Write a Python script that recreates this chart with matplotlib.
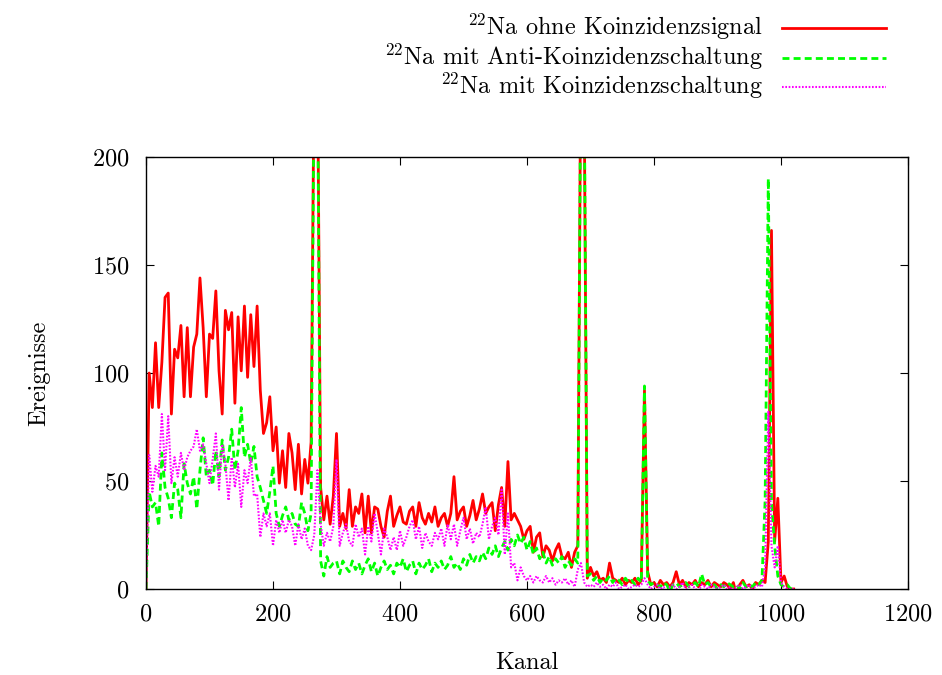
import numpy as np
import matplotlib
matplotlib.use('Agg')
import matplotlib.pyplot as plt
from matplotlib.lines import Line2D

plt.rcParams['font.family'] = 'serif'
plt.rcParams['font.serif'] = ['cmr10', 'DejaVu Serif']
plt.rcParams['mathtext.fontset'] = 'cm'
plt.rcParams['axes.unicode_minus'] = False
plt.rcParams['axes.formatter.use_mathtext'] = True

# Kanaele (Schrittweite 5)
kanal = np.arange(0, 1021, 5)

# 22Na ohne Koinzidenzsignal
ohne = [
    0, 100, 84, 114, 84, 105, 135, 137, 81, 111,
    107, 122, 89, 121, 89, 112, 118, 144, 121, 89,
    118, 116, 138, 101, 81, 129, 120, 128, 86, 126,
    101, 131, 98, 127, 103, 131, 92, 72, 77, 89,
    64, 75, 49, 64, 47, 72, 63, 46, 67, 44,
    60, 49, 68, 250, 250, 47, 32, 43, 30, 43,
    72, 29, 35, 28, 46, 29, 38, 35, 44, 26,
    43, 26, 38, 37, 29, 24, 36, 43, 29, 34,
    38, 31, 30, 36, 38, 29, 40, 33, 30, 35,
    31, 38, 29, 33, 35, 29, 35, 52, 32, 36,
    38, 29, 34, 41, 32, 37, 44, 35, 38, 40,
    27, 39, 47, 29, 59, 32, 35, 32, 29, 23,
    27, 29, 17, 24, 26, 15, 20, 18, 13, 18,
    21, 15, 14, 17, 10, 17, 20, 260, 230, 5,
    10, 6, 8, 4, 5, 3, 12, 5, 4, 3,
    5, 2, 4, 3, 5, 2, 4, 92, 8, 2,
    3, 1, 4, 2, 3, 1, 3, 8, 2, 4,
    1, 3, 2, 4, 1, 3, 2, 4, 1, 3,
    2, 1, 3, 2, 0, 3, -3, 2, 4, 1,
    2, 0, 3, 2, 4, 3, 22, 166, 22, 42,
    3, 6, 1, 0, 0,
]

# 22Na mit Anti-Koinzidenzschaltung
anti = [
    0, 45, 38, 40, 29, 63, 47, 42, 33, 49,
    46, 33, 58, 49, 44, 52, 37, 55, 70, 52,
    55, 48, 64, 52, 69, 55, 61, 74, 55, 64,
    84, 61, 67, 58, 66, 52, 47, 41, 35, 45,
    57, 35, 29, 34, 38, 32, 35, 30, 29, 40,
    35, 27, 35, 250, 250, 13, 6, 15, 10, 12,
    13, 7, 13, 10, 8, 13, 9, 12, 7, 11,
    14, 8, 12, 6, 10, 13, 9, 11, 7, 12,
    10, 14, 8, 11, 13, 7, 12, 9, 11, 14,
    8, 12, 10, 13, 9, 11, 15, 10, 12, 9,
    14, 11, 16, 12, 15, 13, 17, 14, 19, 16,
    20, 15, 19, 22, 18, 23, 20, 25, 21, 24,
    18, 22, 16, 19, 14, 17, 12, 15, 11, 14,
    12, 15, 10, 13, 11, 14, 12, 260, 240, 6,
    7, 4, 6, 3, 5, 4, 6, 3, 5, 4,
    2, 5, 3, 4, 2, 5, 3, 94, 4, 2,
    3, 2, 1, 3, 2, -1, 2, 3, 1, 2,
    3, 1, 2, 3, 1, 7, 2, 3, 1, 2,
    0, 2, 1, 3, 2, 1, 2, 0, 3, 1,
    2, 1, 3, 2, 4, 41, 190, 40, 20, 6,
    2, 1, 2, 0, 0,
]

# 22Na mit Koinzidenzschaltung
koinz = [
    0, 62, 45, 57, 52, 81, 55, 80, 49, 61,
    52, 63, 55, 61, 64, 66, 74, 64, 67, 58,
    49, 60, 72, 46, 67, 58, 41, 61, 47, 58,
    38, 55, 49, 61, 43, 44, 24, 35, 29, 35,
    20, 32, 26, 32, 26, 32, 29, 20, 30, 23,
    28, 20, 18, 25, 55, 30, 20, 26, 22, 29,
    60, 20, 26, 30, 22, 20, 30, 24, 28, 16,
    29, 22, 35, 26, 16, 28, 24, 18, 24, 18,
    27, 20, 24, 29, 32, 23, 29, 19, 26, 22,
    20, 26, 23, 28, 20, 30, 23, 30, 20, 27,
    33, 23, 28, 21, 26, 24, 30, 38, 23, 29,
    33, 25, 46, 16, 35, 10, 12, 4, 10, 6,
    4, 6, 3, 6, 4, 3, 6, 3, 5, 2,
    4, 3, 5, 2, 4, 1, 9, 12, 3, 1,
    2, 1, 3, 1, 2, 0, 2, 1, 3, 0,
    1, 2, 0, 1, 2, 1, 2, 5, 2, 0,
    1, 2, 0, 1, -2, 1, 2, 0, 1, 3,
    0, 1, 2, 0, -1, 2, 1, 0, 2, 1,
    0, 1, 2, 0, 1, -1, 1, 2, 0, 1,
    2, 0, 1, 2, 1, 10, 82, 20, 10, 20,
    3, 1, 0, 0, 0,
]

labels = [r'$^{22}$Na ohne Koinzidenzsignal',
          r'$^{22}$Na mit Anti-Koinzidenzschaltung',
          r'$^{22}$Na mit Koinzidenzschaltung']

W, H = 942, 675
fs = 17.5

fig = plt.figure(figsize=(W / 100, H / 100), dpi=100)
ax = fig.add_axes([146 / W, 1 - 589 / H, 762 / W, 432 / H])

styles = [dict(color='#ff0000', lw=2.0),
          dict(color='#00ff00', lw=2.0, dashes=(2.5, 1.5)),
          dict(color='#ff00ff', lw=1.5, dashes=(0.8, 0.8))]

for ys, st in zip([ohne, anti, koinz], styles):
    ax.plot(kanal, ys, **st)

ax.set_xlim(0, 1200)
ax.set_ylim(0, 200)
ax.set_xticks(np.arange(0, 1201, 200))
ax.set_yticks(np.arange(0, 201, 50))
ax.tick_params(direction='in', length=5.5, width=0.8, top=True, right=True,
               labelsize=fs)
ax.tick_params(axis='x', pad=10)
ax.tick_params(axis='y', pad=12)
for s in ax.spines.values():
    s.set_linewidth(1.0)

ax.set_xlabel('Kanal', fontsize=fs, labelpad=19)
ax.set_ylabel('Ereignisse', fontsize=fs, labelpad=30)

# Legende wie bei gnuplot: Text rechtsbuendig, Linie rechts daneben
for i, (lab, st) in enumerate(zip(labels, styles)):
    base = 35 + 29.5 * i
    fig.text(763 / W, 1 - base / H, lab, ha='right', va='baseline',
             fontsize=fs)
    yl = 1 - (base - 7) / H
    fig.add_artist(Line2D([782 / W, 886 / W], [yl, yl],
                          transform=fig.transFigure, **st))

fig.savefig('out.png', dpi=100)
